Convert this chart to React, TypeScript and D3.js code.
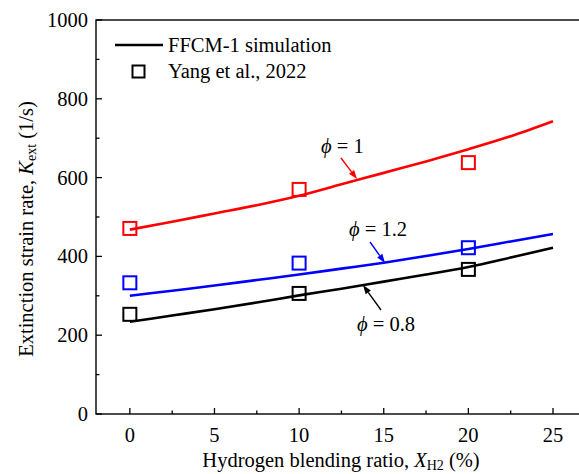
import React from "react";
import * as d3 from "d3";

const W = 579;
const H = 474;

const simX = [0, 2.5, 5, 7.5, 10, 12.5, 15, 17.5, 20, 22.5, 25];
const simPhi1 = [468, 488, 509, 530, 554, 583, 612, 641, 672, 705, 743];
const simPhi12 = [300, 313, 326, 340, 354, 369, 384, 401, 419, 438, 457];
const simPhi08 = [234, 250, 266, 283, 301, 318, 336, 354, 373, 397, 422];

const expX = [0, 10, 20];
const expPhi1 = [471, 570, 638];
const expPhi12 = [333, 383, 422];
const expPhi08 = [253, 306, 367];

const xMajor = [0, 5, 10, 15, 20, 25];
const xMinor = [2.5, 7.5, 12.5, 17.5, 22.5];
const yMajor = [0, 200, 400, 600, 800, 1000];
const yMinor = [100, 300, 500, 700, 900];

const series = [
  { name: "phi1", color: "#ff0000", sim: simPhi1, exp: expPhi1 },
  { name: "phi12", color: "#0000ff", sim: simPhi12, exp: expPhi12 },
  { name: "phi08", color: "#000000", sim: simPhi08, exp: expPhi08 },
];

export default function App() {
  const left = 96, top = 20, bottom = 414;
  const x = d3.scaleLinear().domain([-2, 25]).range([left, 553]);
  const y = d3.scaleLinear().domain([0, 1000]).range([bottom, top]);
  const right = x(27.5);
  const line = d3
    .line<number>()
    .x((_, i) => x(simX[i]))
    .y((d) => y(d))
    .curve(d3.curveMonotoneX);
  const font = "'Liberation Serif', 'Tinos', 'Times New Roman', 'DejaVu Serif', serif";
  const sq = 13;
  const fs = 20.5;

  const arrow = (x1: number, y1: number, x2: number, y2: number, color: string) => {
    const ang = Math.atan2(y2 - y1, x2 - x1);
    const L = 9, w = 3.2;
    const bx = x2 - L * Math.cos(ang), by = y2 - L * Math.sin(ang);
    const px = -Math.sin(ang) * w, py = Math.cos(ang) * w;
    return (
      <g>
        <line x1={x1} y1={y1} x2={bx} y2={by} stroke={color} strokeWidth={1.4} />
        <polygon points={`${x2},${y2} ${bx + px},${by + py} ${bx - px},${by - py}`} fill={color} />
      </g>
    );
  };

  const T = (props: any) => <text {...props} style={{ fontFamily: font }} />;

  return (
    <svg width={W} height={H} style={{ position: "absolute", left: 0, top: 0, background: "#fff" }}>
      <rect x={0} y={0} width={W} height={H} fill="#fff" />
      <rect x={left} y={top} width={right - left} height={bottom - top} fill="none" stroke="#000" strokeWidth={1.4} />
      {xMajor.map((t) => (
        <g key={"xm" + t}>
          <line x1={x(t)} x2={x(t)} y1={bottom} y2={bottom - 6} stroke="#000" strokeWidth={1.3} />
          <T x={x(t)} y={442} textAnchor="middle" fontSize={fs}>{t}</T>
        </g>
      ))}
      {xMinor.map((t) => (
        <line key={"xn" + t} x1={x(t)} x2={x(t)} y1={bottom} y2={bottom - 3.5} stroke="#000" strokeWidth={1.3} />
      ))}
      {yMajor.map((t) => (
        <g key={"ym" + t}>
          <line x1={left} x2={left + 6} y1={y(t)} y2={y(t)} stroke="#000" strokeWidth={1.3} />
          <T x={88} y={y(t) + 7} textAnchor="end" fontSize={fs}>{t}</T>
        </g>
      ))}
      {yMinor.map((t) => (
        <line key={"yn" + t} x1={left} x2={left + 3.5} y1={y(t)} y2={y(t)} stroke="#000" strokeWidth={1.3} />
      ))}
      <T x={341} y={466.5} textAnchor="middle" fontSize={fs}>
        Hydrogen blending ratio, <tspan fontStyle="italic">X</tspan>
        <tspan fontSize={14} dy={3}>H2</tspan>
        <tspan dy={-3}> (%)</tspan>
      </T>
      <T transform={`translate(33,${229}) rotate(-90)`} textAnchor="middle" fontSize={fs}>
        Extinction strain rate, <tspan fontStyle="italic">K</tspan>
        <tspan fontSize={14} dy={3}>ext</tspan>
        <tspan dy={-3}>  (1/s)</tspan>
      </T>
      {series.map((s) => (
        <path key={s.name} d={line(s.sim) || ""} fill="none" stroke={s.color} strokeWidth={2.6} />
      ))}
      {series.map((s) =>
        s.exp.map((v, i) => (
          <rect key={s.name + i} x={x(expX[i]) - sq / 2} y={y(v) - sq / 2} width={sq} height={sq} fill="none" stroke={s.color} strokeWidth={2} />
        ))
      )}
      <T x={321} y={153} fontSize={fs}>
        <tspan fontStyle="italic">ϕ</tspan> = 1
      </T>
      {arrow(341, 158, 357, 179, "#ff0000")}
      <T x={349} y={236} fontSize={fs}>
        <tspan fontStyle="italic">ϕ</tspan> = 1.2
      </T>
      {arrow(370, 242, 385, 263, "#0000ff")}
      <T x={357} y={331} fontSize={fs}>
        <tspan fontStyle="italic">ϕ</tspan> = 0.8
      </T>
      {arrow(381, 310, 363, 285, "#000000")}
      <line x1={115} x2={163} y1={45} y2={45} stroke="#000" strokeWidth={2.6} />
      <T x={168} y={52} fontSize={fs}>FFCM-1 simulation</T>
      <rect x={132.5} y={65.5} width={12} height={12} fill="none" stroke="#000" strokeWidth={2} />
      <T x={168} y={77.5} fontSize={fs}>Yang et al., 2022</T>
    </svg>
  );
}
